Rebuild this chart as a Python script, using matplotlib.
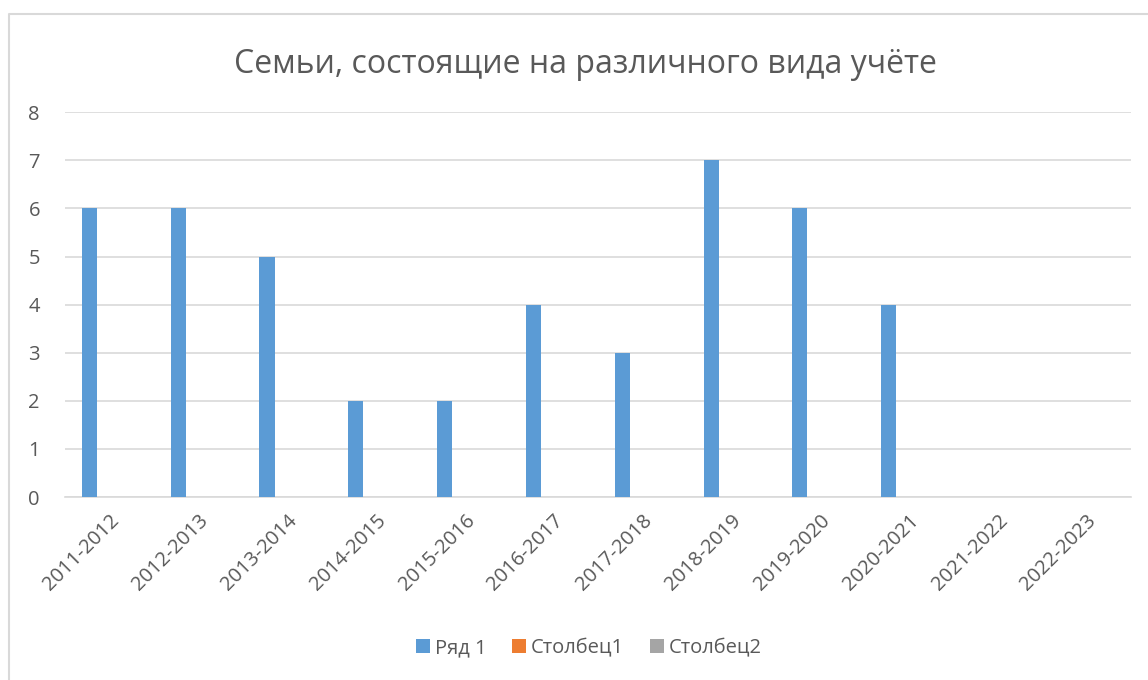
from matplotlib import pyplot as plt
from matplotlib.lines import Line2D
import numpy as np

years = ['2011-2012', '2012-2013', '2013-2014', '2014-2015', '2015-2016',
         '2016-2017', '2017-2018', '2018-2019', '2019-2020', '2020-2021',
         '2021-2022', '2022-2023']
row1 = [6, 6, 5, 2, 2, 4, 3, 7, 6, 4, 0, 0]
col1 = [0] * 12
col2 = [0] * 12
series_names = ['Ряд 1', 'Столбец1', 'Столбец2']
colors = ['#5B9BD5', '#ED7D31', '#A5A5A5']

plt.rcParams['font.family'] = ['Open Sans', 'DejaVu Sans']
text_color = '#595959'

fig = plt.figure(figsize=(11.48, 6.8), dpi=100)
ax = fig.add_axes([0.0566, 0.269, 0.9284, 0.566])

# outer chart border (only top and left fall inside the picture)
fig.lines.append(Line2D([0.0075, 0.0075, 1.0], [0.0, 0.98, 0.98], transform=fig.transFigure,
                        color='#d9d9d9', linewidth=1.5))

x = np.arange(len(years))
w = 0.17
offsets = [-0.225, -0.225 + w, -0.225 + 2 * w]
for vals, name, c, off in zip([row1, col1, col2], series_names, colors, offsets):
    ax.bar(x + off, vals, width=w, color=c, label=name, zorder=3)

ax.set_xlim(-0.5, len(years) - 0.5)
ax.set_ylim(0, 8)
ax.set_yticks(range(0, 9))
ax.set_xticks(x)
ax.set_xticklabels(years, rotation=45, ha='right', rotation_mode='anchor')
ax.tick_params(axis='both', length=0, labelsize=14.5, colors=text_color)
ax.tick_params(axis='y', pad=18)
ax.tick_params(axis='x', pad=10)
ax.grid(axis='y', color='#d9d9d9', linewidth=1.2, zorder=0)
for s in ['top', 'right', 'left']:
    ax.spines[s].set_visible(False)
ax.spines['bottom'].set_color('#d9d9d9')
ax.spines['bottom'].set_linewidth(1.2)

fig.text(0.5096, 0.905, 'Семьи, состоящие на различного вида учёте', ha='center',
         va='center', fontsize=23, color=text_color)

fig.legend(loc='center', bbox_to_anchor=(0.513, 0.047), ncol=3, frameon=False,
           fontsize=14.5, labelcolor=text_color, handlelength=0.7, handleheight=0.7,
           handletextpad=0.25, columnspacing=1.25)

fig.savefig('out.png')
